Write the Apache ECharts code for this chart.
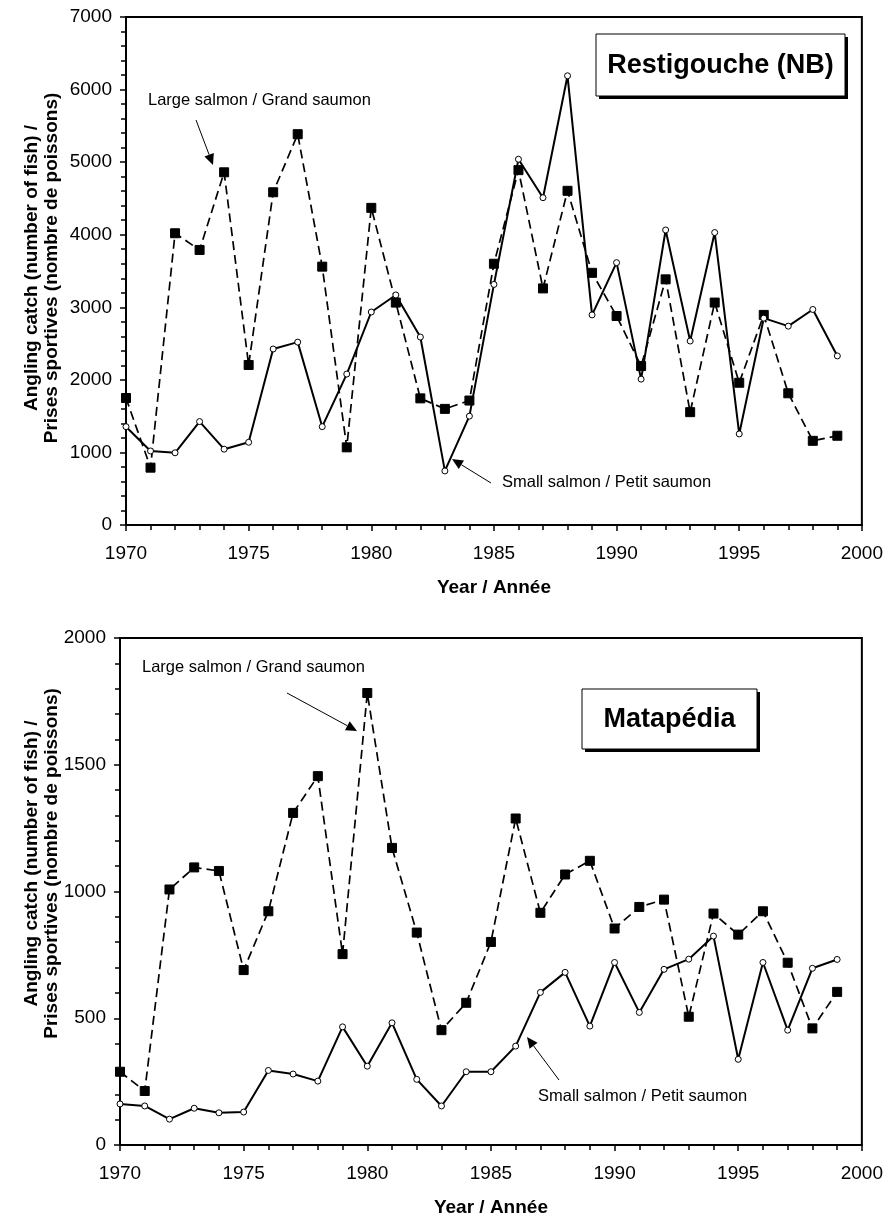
<!DOCTYPE html>
<html>
<head>
<meta charset="utf-8">
<script src="https://cdn.jsdelivr.net/npm/echarts@6/dist/echarts.min.js"></script>
<style>
html,body{margin:0;padding:0;background:#fff;}
#chart{width:886px;height:1218px;}
</style>
</head>
<body>
<div id="chart"></div>
<script>
const years = [1970,1971,1972,1973,1974,1975,1976,1977,1978,1979,1980,1981,1982,1983,1984,1985,1986,1987,1988,1989,1990,1991,1992,1993,1994,1995,1996,1997,1998,1999];
const restLarge = [1750,790,4020,3790,4860,2205,4585,5385,3560,1070,4370,3065,1745,1600,1715,3600,4890,3260,4605,3475,2880,2190,3385,1555,3065,1960,2895,1815,1160,1230];
const restSmall = [1355,1020,995,1425,1045,1140,2425,2520,1355,2080,2935,3170,2590,745,1500,3315,5040,4510,6190,2895,3615,2010,4065,2535,4030,1255,2850,2740,2970,2330];
const mataLarge = [289,213,1008,1095,1081,690,922,1310,1455,753,1783,1172,838,453,561,801,1288,916,1067,1121,854,939,968,506,913,830,922,719,460,604];
const mataSmall = [162,154,102,145,127,130,294,280,252,466,311,482,259,154,289,289,390,602,681,469,720,523,693,733,824,338,720,453,697,732];
const yTitle = 'Angling catch (number of fish) /\nPrises sportives (nombre de poissons)';
const xTitle = 'Year / Année';
const largeLabel = 'Large salmon / Grand saumon';
const smallLabel = 'Small salmon / Petit saumon';

const FONT = '"Liberation Sans", Arial, sans-serif';
const pairs = a => years.map((y,i)=>[y,a[i]]);

function xAx(gi){
  return {
    type:'value', gridIndex:gi, min:1970, max:2000, interval:5,
    name:xTitle, nameLocation:'middle', nameGap:53, nameMoveOverlap:false,
    nameTextStyle:{fontFamily:FONT,fontSize:19,fontWeight:'bold',color:'#000'},
    axisLine:{show:true,lineStyle:{color:'#000',width:2}},
    axisTick:{show:true,length:6,lineStyle:{color:'#000',width:1.5}},
    minorTick:{show:true,splitNumber:5,length:5,lineStyle:{color:'#000',width:1.5}},
    axisLabel:{fontFamily:FONT,fontSize:19,color:'#000',margin:19,formatter:v=>String(v)},
    splitLine:{show:false}
  };
}
function yAx(gi,max,interval,gap,pad){
  return {
    type:'value', gridIndex:gi, min:0, max:max, interval:interval,
    name:yTitle, nameLocation:'middle', nameGap:gap, nameRotate:90, nameMoveOverlap:false,
    nameTextStyle:{fontFamily:FONT,fontSize:19,fontWeight:'bold',color:'#000',lineHeight:20,align:'center',padding:[0,0,0,pad]},
    axisLine:{show:true,lineStyle:{color:'#000',width:2}},
    axisTick:{show:true,length:6,lineStyle:{color:'#000',width:1.5}},
    minorTick:{show:true,splitNumber:5,length:5,lineStyle:{color:'#000',width:1.5}},
    axisLabel:{fontFamily:FONT,fontSize:19,color:'#000',margin:14,formatter:v=>String(v)},
    splitLine:{show:false}
  };
}
function largeSeries(gi,data){
  return {type:'line', xAxisIndex:gi, yAxisIndex:gi, data:pairs(data),
    symbol:'rect', symbolSize:9, showAllSymbol:true,
    itemStyle:{color:'#000',borderColor:'#000'},
    lineStyle:{color:'#000',width:1.7,type:[9,5]}, z:3, animation:false};
}
function smallSeries(gi,data){
  return {type:'line', xAxisIndex:gi, yAxisIndex:gi, data:pairs(data),
    symbol:'circle', symbolSize:6, showAllSymbol:true,
    itemStyle:{color:'#fff',borderColor:'#000',borderWidth:1},
    lineStyle:{color:'#000',width:2}, z:4, animation:false};
}
function arrow(x1,y1,x2,y2){
  const dx=x2-x1, dy=y2-y1, L=Math.hypot(dx,dy), ux=dx/L, uy=dy/L;
  const hl=11, hw=5;
  const bx=x2-ux*hl, by=y2-uy*hl;
  return [
    {type:'line',shape:{x1:x1,y1:y1,x2:bx,y2:by},style:{stroke:'#000',lineWidth:1},z:10},
    {type:'polygon',shape:{points:[[x2,y2],[bx-uy*hw,by+ux*hw],[bx+uy*hw,by-ux*hw]]},style:{fill:'#000'},z:10}
  ];
}
function titleBox(x,y,w,h,text){
  return [
    {type:'rect',shape:{x:x+3,y:y+3,width:w,height:h},style:{fill:'#000'},z:10},
    {type:'rect',shape:{x:x,y:y,width:w,height:h},style:{fill:'#fff',stroke:'#000',lineWidth:1},z:11},
    {type:'text',x:x+w/2,y:y+h/2+1,style:{text:text,fontFamily:FONT,fontSize:27,fontWeight:'bold',fill:'#000',align:'center',verticalAlign:'middle'},z:12}
  ];
}
const annStyle = {fontFamily:FONT,fontSize:16.5,fill:'#000',verticalAlign:'middle'};

const chart = echarts.init(document.getElementById('chart'),null,{renderer:'canvas'});
chart.setOption({
  backgroundColor:'#fff',
  animation:false,
  grid:[
    {left:126,top:17,width:736,height:508,show:true,borderColor:'#000',borderWidth:2,backgroundColor:'transparent'},
    {left:120,top:638,width:742,height:507,show:true,borderColor:'#000',borderWidth:2,backgroundColor:'transparent'}
  ],
  xAxis:[xAx(0),xAx(1)],
  yAxis:[yAx(0,7000,1000,64,6),yAx(1,2000,500,58,56)],
  series:[largeSeries(0,restLarge),smallSeries(0,restSmall),largeSeries(1,mataLarge),smallSeries(1,mataSmall)],
  graphic:[].concat(
    titleBox(596,34,249,62,'Restigouche (NB)'),
    titleBox(582,689,175,60,'Matapédia'),
    [{type:'text',x:148,y:100,style:Object.assign({text:largeLabel},annStyle),z:10}],
    arrow(196,120,213,165),
    [{type:'text',x:502,y:482,style:Object.assign({text:smallLabel},annStyle),z:10}],
    arrow(491,483,452,459),
    [{type:'text',x:142,y:667,style:Object.assign({text:largeLabel},annStyle),z:10}],
    arrow(287,693,357,731),
    [{type:'text',x:538,y:1096,style:Object.assign({text:smallLabel},annStyle),z:10}],
    arrow(559,1080,527,1037)
  )
});
</script>
</body>
</html>
